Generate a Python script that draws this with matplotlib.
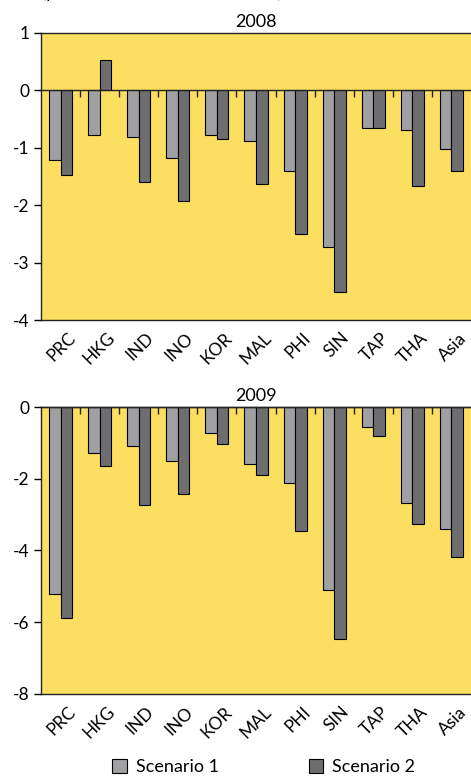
import numpy as np
import matplotlib
matplotlib.use("Agg")
import matplotlib.pyplot as plt
import matplotlib.transforms as mtransforms

plt.rcParams['font.family'] = ['Lato', 'DejaVu Sans']

countries = ["PRC", "HKG", "IND", "INO", "KOR", "MAL", "PHI", "SIN", "TAP", "THA", "Asia"]

# 2008 deviations (percent)
s1_2008 = [-1.22, -0.77, -0.81, -1.18, -0.77, -0.88, -1.40, -2.72, -0.65, -0.69, -1.03]
s2_2008 = [-1.48, 0.52, -1.59, -1.93, -0.84, -1.63, -2.50, -3.51, -0.65, -1.67, -1.40]

# 2009 deviations (percent)
s1_2009 = [-5.21, -1.27, -1.09, -1.51, -0.73, -1.59, -2.13, -5.09, -0.56, -2.68, -3.40]
s2_2009 = [-5.88, -1.65, -2.73, -2.43, -1.03, -1.89, -3.46, -6.48, -0.80, -3.27, -4.19]

YELLOW = "#FCDE60"
LIGHT = "#A0A0A2"
DARK = "#6E6E70"


def draw_panel(ax, title, s1, s2, ylim, yticks, zero_frac):
    x = np.arange(len(countries))
    w = 0.295
    ax.set_facecolor(YELLOW)
    ax.bar(x - w / 2, s1, w, color=LIGHT, edgecolor="black", linewidth=0.8,
           label="Scenario 1", zorder=2)
    ax.bar(x + w / 2, s2, w, color=DARK, edgecolor="black", linewidth=0.8,
           label="Scenario 2", zorder=2)
    ax.set_xlim(-0.5, len(countries) - 0.5)
    ax.set_ylim(*ylim)
    ax.set_yticks(yticks)
    ax.set_yticklabels([str(t) for t in yticks])
    ax.tick_params(axis="y", direction="out", length=5, width=1, labelsize=12.5, pad=3)
    ax.set_xticks(x)
    ax.set_xticklabels(countries, rotation=45, ha="right", rotation_mode="anchor",
                       fontsize=12.5)
    ax.tick_params(axis="x", length=0, pad=7)
    shift = mtransforms.ScaledTranslation(7 / 100, 0, ax.figure.dpi_scale_trans)
    for lab in ax.get_xticklabels():
        lab.set_transform(lab.get_transform() + shift)
    ax.spines["right"].set_visible(False)
    for s in ["left", "top", "bottom"]:
        ax.spines[s].set_linewidth(1.0)
        ax.spines[s].set_color("#222222")
    ax.set_title(title, fontsize=13, pad=4)

    # zero line with category separator ticks pointing down
    zax = ax.secondary_xaxis(zero_frac)
    zax.xaxis.set_ticks_position("bottom")
    zax.set_xticks(x[:-1] + 0.5)
    zax.set_xticklabels([])
    zax.tick_params(direction="out", length=5, width=1, color="#222222")
    for s in zax.spines.values():
        s.set_linewidth(1.0)
        s.set_color("#222222")
    zax.set_zorder(3)


fig = plt.figure(figsize=(4.71, 7.76), dpi=100)
ax1 = fig.add_axes([0.087, 0.5876, 0.913, 0.37])
ax2 = fig.add_axes([0.087, 0.1057, 0.913, 0.3698])

draw_panel(ax1, "2008", s1_2008, s2_2008, (-4, 1), [1, 0, -1, -2, -3, -4], 0.8)
draw_panel(ax2, "2009", s1_2009, s2_2009, (-8, 0), [0, -2, -4, -6, -8], 1.0)

fig.text(0.09, 1.003, "(percent deviation from baseline)", fontsize=12, va="baseline")

handles, labels = ax1.get_legend_handles_labels()
fig.legend(handles, labels, loc="lower center", bbox_to_anchor=(0.56, -0.02),
           ncol=2, frameon=False, fontsize=13, handlelength=0.8, handleheight=0.8,
           handletextpad=0.5, columnspacing=5.0)

plt.savefig("out.png", dpi=100)
plt.close()
